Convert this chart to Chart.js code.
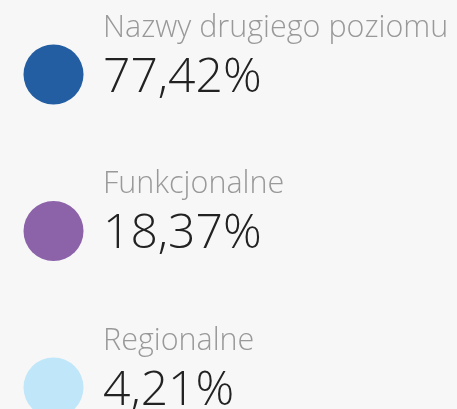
<!DOCTYPE html>
<html>
<head>
<meta charset="utf-8">
<script src="https://cdn.jsdelivr.net/npm/chart.js@4/dist/chart.umd.min.js"></script>
<style>
  html, body { margin: 0; padding: 0; background: #f7f7f7; }
  #wrap { width: 457px; height: 409px; position: relative; }
</style>
</head>
<body>
<div id="wrap"><canvas id="chart"></canvas></div>
<script>
// --- Datos ---
const categories = ['Nazwy drugiego poziomu', 'Funkcjonalne', 'Regionalne'];
const shares = [77.42, 18.37, 4.21];
const colors = ['#235da2', '#8c62a9', '#bfe6f9'];

const fmt = v => v.toFixed(2).replace('.', ',') + '%';

// etiquetas junto a cada punto
const labelPlugin = {
  id: 'labels',
  afterDatasetsDraw(chart) {
    const ctx = chart.ctx;
    const meta = chart.getDatasetMeta(0);
    ctx.save();
    ctx.textAlign = 'left';
    ctx.textBaseline = 'alphabetic';
    meta.data.forEach((pt, i) => {
      const x = pt.x + 49.5;
      ctx.fillStyle = '#999999';
      ctx.font = '300 30.5px "Open Sans"';
      ctx.fillText(categories[i], x, pt.y - 38);
      ctx.fillStyle = '#222222';
      ctx.font = '300 48px "Open Sans"';
      ctx.fillText(fmt(shares[i]), x, pt.y + 17);
    });
    ctx.restore();
  }
};

new Chart(document.getElementById('chart'), {
  type: 'scatter',
  data: {
    datasets: [{
      data: shares.map((v, i) => ({ x: 0, y: i })),
      backgroundColor: colors,
      borderWidth: 0,
      pointRadius: 30,
      pointHoverRadius: 30,
      clip: false
    }]
  },
  options: {
    responsive: true,
    maintainAspectRatio: false,
    animation: false,
    layout: { padding: 0, autoPadding: false },
    plugins: { legend: { display: false }, tooltip: { enabled: false } },
    scales: {
      x: { display: false, min: -1, max: 7.54 },
      y: { display: false, reverse: true, min: -0.476, max: 2.137 }
    }
  },
  plugins: [labelPlugin]
});
</script>
</body>
</html>
